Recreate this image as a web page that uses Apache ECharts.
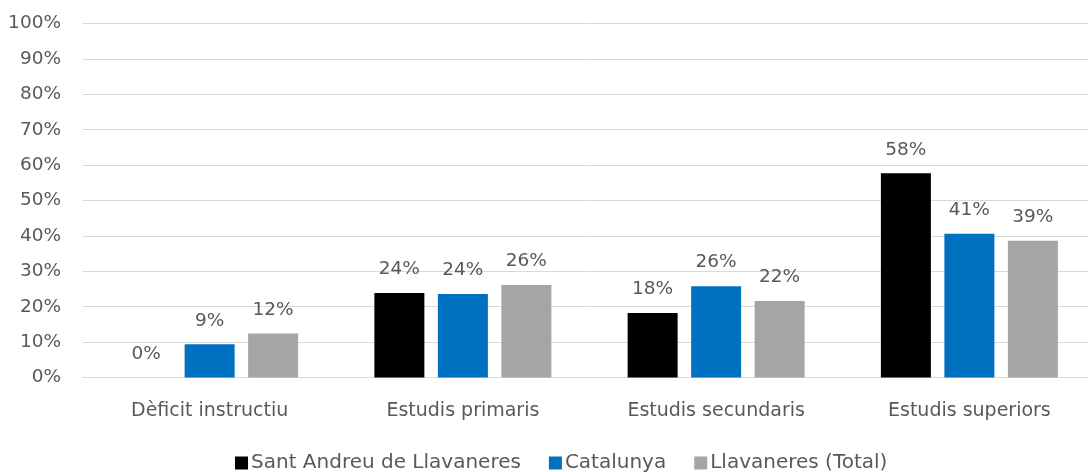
<!DOCTYPE html>
<html>
<head>
<meta charset="utf-8">
<script src="https://cdn.jsdelivr.net/npm/echarts@6/dist/echarts.min.js"></script>
<style>
  html, body { margin: 0; padding: 0; background: #ffffff; overflow: hidden; }
  /* the plot runs slightly past the right edge of the window */
  #chart { width: 1096px; height: 472px; }
</style>
</head>
<body>
<div id="chart"></div>
<script>
// Nivell d'instrucció de la població (% sobre el total)
const categories = ['Dèficit instructiu', 'Estudis primaris', 'Estudis secundaris', 'Estudis superiors'];
const seriesNames = ['Sant Andreu de Llavaneres', 'Catalunya', 'Llavaneres (Total)'];
const santAndreu = [0, 23.9, 18.2, 57.7];
const catalunya = [9.4, 23.6, 25.8, 40.6];
const llavTotal = [12.4, 26.1, 21.6, 38.6];
const yTicks = [0, 10, 20, 30, 40, 50, 60, 70, 80, 90, 100];

const colors = ['#000000', '#0070C0', '#A5A5A5'];
const values = [santAndreu, catalunya, llavTotal];
const font = '"DejaVu Sans", sans-serif';
const textColor = '#595959';
const fs = 18.5;

const chart = echarts.init(document.getElementById('chart'));

chart.setOption({
  animation: false,
  textStyle: { fontFamily: font },
  grid: { left: 83, right: 0, top: 23.5, height: 354, containLabel: false },
  legend: {
    top: 448,
    left: 230,
    itemWidth: 13,
    itemHeight: 13,
    itemGap: 28,
    icon: 'rect',
    textStyle: { fontFamily: font, fontSize: 20, color: textColor, padding: [0, 0, 0, -2] },
    data: seriesNames
  },
  xAxis: {
    type: 'category',
    data: categories,
    axisLine: { lineStyle: { color: '#D9D9D9', width: 1 } },
    axisTick: { show: false },
    axisLabel: { fontSize: 19, color: textColor, margin: 24, fontFamily: font }
  },
  yAxis: {
    type: 'value',
    min: yTicks[0],
    max: yTicks[yTicks.length - 1],
    interval: 10,
    axisLine: { show: false },
    axisTick: { show: false },
    splitLine: { lineStyle: { color: '#D9D9D9', width: 1 } },
    axisLabel: { fontSize: fs, color: textColor, margin: 22, fontFamily: font, padding: [5, 0, 0, 0], formatter: v => v + '%' }
  },
  series: seriesNames.map((name, i) => ({
    name,
    type: 'bar',
    data: values[i],
    barWidth: 50,
    barGap: '27%',
    itemStyle: { color: colors[i] },
    label: {
      show: true,
      position: 'top',
      distance: 14,
      fontSize: fs,
      color: textColor,
      fontFamily: font,
      formatter: p => Math.round(p.value) + '%'
    }
  }))
});
</script>
</body>
</html>
